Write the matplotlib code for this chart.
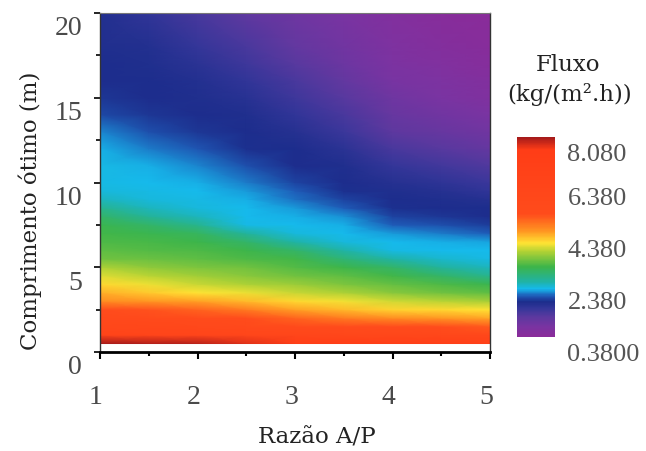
import numpy as np
import matplotlib
matplotlib.use("Agg")
import matplotlib.pyplot as plt
from matplotlib.colors import LinearSegmentedColormap, Normalize
from matplotlib.transforms import ScaledTranslation

# Razão A/P (x) and comprimento ótimo (y) sample grid
razao = [1, 1.5, 2, 2.5, 3, 3.5, 4, 4.5, 5]
comprimento = [0.5, 1, 1.5, 2, 2.5, 3, 3.5, 4, 4.5, 5, 5.5, 6, 6.5, 7, 7.5,
               8, 8.5, 9, 9.5, 10, 11, 12, 13, 14, 15, 16, 17, 18, 20]

# fluxo (kg/(m².h)) read along each column, bottom to top
fluxo_x10 = [8.6, 7.0, 6.5, 6.1, 5.66, 5.1, 4.85, 4.6, 4.4, 4.2, 3.9, 3.8, 3.72, 3.66, 3.6,
             3.45, 3.2, 2.95, 2.85, 2.82, 2.8, 2.76, 2.62, 2.42, 2.32, 2.28, 2.26, 2.25, 2.22]
fluxo_x15 = [8.55, 6.9, 6.4, 6.0, 5.6, 5.0, 4.7, 4.45, 4.25, 4.05, 3.85, 3.75, 3.68, 3.6, 3.45,
             3.15, 2.95, 2.85, 2.8, 2.78, 2.74, 2.6, 2.44, 2.34, 2.28, 2.27, 2.25, 2.2, 2.05]
fluxo_x20 = [8.5, 6.8, 6.3, 5.9, 5.45, 4.95, 4.55, 4.3, 4.12, 3.95, 3.8, 3.7, 3.62, 3.5, 3.2,
             2.95, 2.85, 2.8, 2.78, 2.76, 2.64, 2.48, 2.33, 2.27, 2.25, 2.2, 2.12, 2.04, 1.85]
fluxo_x25 = [8.3, 6.7, 6.15, 5.7, 5.25, 4.8, 4.45, 4.2, 4.02, 3.88, 3.72, 3.62, 3.45, 3.1, 2.82,
             2.78, 2.77, 2.74, 2.68, 2.6, 2.45, 2.3, 2.27, 2.24, 2.15, 2.05, 1.95, 1.85, 1.65]
fluxo_x30 = [8.0, 6.6, 6.0, 5.45, 4.95, 4.6, 4.3, 4.1, 3.9, 3.75, 3.65, 3.45, 3.04, 2.85, 2.78,
             2.76, 2.68, 2.58, 2.5, 2.38, 2.28, 2.26, 2.18, 2.05, 1.95, 1.85, 1.72, 1.62, 1.45]
fluxo_x35 = [7.9, 6.55, 5.9, 5.25, 4.8, 4.48, 4.2, 3.95, 3.8, 3.62, 3.35, 3.04, 2.85, 2.79, 2.76,
             2.65, 2.52, 2.4, 2.3, 2.27, 2.24, 2.12, 1.98, 1.85, 1.72, 1.6, 1.5, 1.42, 1.3]
fluxo_x40 = [7.8, 6.5, 5.8, 5.1, 4.65, 4.35, 4.0, 3.82, 3.65, 3.45, 3.04, 2.82, 2.78, 2.7, 2.52,
             2.4, 2.3, 2.27, 2.25, 2.18, 2.02, 1.85, 1.68, 1.55, 1.45, 1.35, 1.28, 1.22, 1.12]
fluxo_x45 = [7.6, 6.45, 5.7, 5.0, 4.6, 4.25, 3.9, 3.72, 3.45, 3.1, 2.9, 2.79, 2.75, 2.6, 2.45,
             2.32, 2.28, 2.25, 2.18, 2.1, 1.92, 1.72, 1.55, 1.42, 1.32, 1.24, 1.17, 1.1, 1.02]
fluxo_x50 = [7.4, 6.4, 5.55, 4.9, 4.54, 4.15, 3.8, 3.6, 3.2, 2.95, 2.8, 2.77, 2.72, 2.5, 2.35,
             2.28, 2.26, 2.18, 2.07, 1.98, 1.78, 1.58, 1.42, 1.3, 1.2, 1.12, 1.05, 1.0, 0.95]

cbar_ticks = [8.080, 6.380, 4.380, 2.380, 0.3800]
cbar_labels = ["8.080", "6.380", "4.380", "2.380", "0.3800"]

# colour scale stops (value, colour)
cmap_values = [0.93, 1.3, 1.7, 2.0, 2.27, 2.5, 2.77, 3.04, 3.62, 4.23, 4.54, 5.0,
               5.66, 8.16, 8.62]
cmap_colors = ["#8a2c9a", "#7a34a2", "#5a399f", "#35379a", "#1c2d8c", "#1f5cb8",
               "#16baec", "#20b3a6", "#3db54a", "#b5d334", "#ffe434", "#ff9622",
               "#ff4c1c", "#ff3d17", "#a61b1b"]

vmin, vmax = cmap_values[0], cmap_values[-1]
pos = [(v - vmin) / (vmax - vmin) for v in cmap_values]
cmap = LinearSegmentedColormap.from_list("fluxo", list(zip(pos, cmap_colors)))
norm = Normalize(vmin, vmax)

W, H = 646, 452
fig = plt.figure(figsize=(W / 100, H / 100), dpi=100)

ax = fig.add_axes([100 / W, 1 - 353 / H, 390 / W, 339 / H])
Z = np.column_stack([fluxo_x10, fluxo_x15, fluxo_x20, fluxo_x25, fluxo_x30,
                     fluxo_x35, fluxo_x40, fluxo_x45, fluxo_x50])
ax.pcolormesh(razao, comprimento, Z, shading="gouraud", cmap=cmap, norm=norm)
ax.set_xlim(1, 5)
ax.set_ylim(0, 20)

ax.set_xticks([1, 2, 3, 4, 5])
ax.set_xticks([1.5, 2.5, 3.5, 4.5], minor=True)
ax.set_yticks([0, 5, 10, 15, 20])
ax.set_yticks([2.5, 7.5, 12.5, 17.5], minor=True)
ax.tick_params(axis="x", which="major", direction="out", length=5, width=1.5, pad=18)
ax.tick_params(axis="x", which="minor", direction="out", length=3, width=1.5)
ax.tick_params(axis="y", which="major", direction="out", length=4, width=1.2, pad=9)
ax.tick_params(axis="y", which="minor", direction="out", length=3, width=1.2)

tick_font = dict(family="Liberation Serif", size=20, color="#4a4a4a")
for lab in ax.get_xticklabels():
    lab.set(**tick_font)
    lab.set_transform(lab.get_transform() + ScaledTranslation(-0.04, 0, fig.dpi_scale_trans))
for lab in ax.get_yticklabels():
    lab.set(**tick_font)
    lab.set_transform(lab.get_transform() + ScaledTranslation(0, -0.12, fig.dpi_scale_trans))

ax.spines["left"].set(linewidth=1.0, color="#333333")
ax.spines["right"].set(linewidth=1.0, color="#333333")
ax.spines["top"].set(linewidth=0.8, color="#777777")
ax.spines["bottom"].set(linewidth=2.0, color="black")

label_font = dict(family="DejaVu Serif", size=16.5, color="#222222")
ax.set_xlabel("Razão A/P", **label_font)
ax.set_ylabel("Comprimento ótimo (m)", **label_font)
ax.xaxis.label.set_va("center")
ax.yaxis.label.set_va("center")
ax.xaxis.set_label_coords((317 - 100) / 390, (353 - 438) / 339)
ax.yaxis.set_label_coords((30 - 100) / 390, (353 - 211) / 339)

# colour bar
cax = fig.add_axes([517 / W, 1 - 358 / H, 38 / W, 220 / H])
grad = np.linspace(vmin, vmax, 300)[:, None]
cax.imshow(grad, extent=[0, 1, vmin, vmax], origin="lower", aspect="auto",
           cmap=cmap, norm=norm)
cax.set_xlim(0, 1)
cax.set_ylim(0.16, vmax)
cax.set_xticks([])
cax.yaxis.tick_right()
cax.set_yticks(cbar_ticks)
cax.set_yticklabels(cbar_labels, family="Liberation Serif", size=19, color="#555555")
cax.tick_params(axis="y", length=0, pad=9)
for s in cax.spines.values():
    s.set_visible(False)

fig.text(568 / W, 1 - 65 / H, "Fluxo", ha="center", va="center", **label_font)
fig.text(570 / W, 1 - 95 / H, "(kg/(m².h))", ha="center", va="center", **label_font)

fig.savefig("out.png", dpi=100)
